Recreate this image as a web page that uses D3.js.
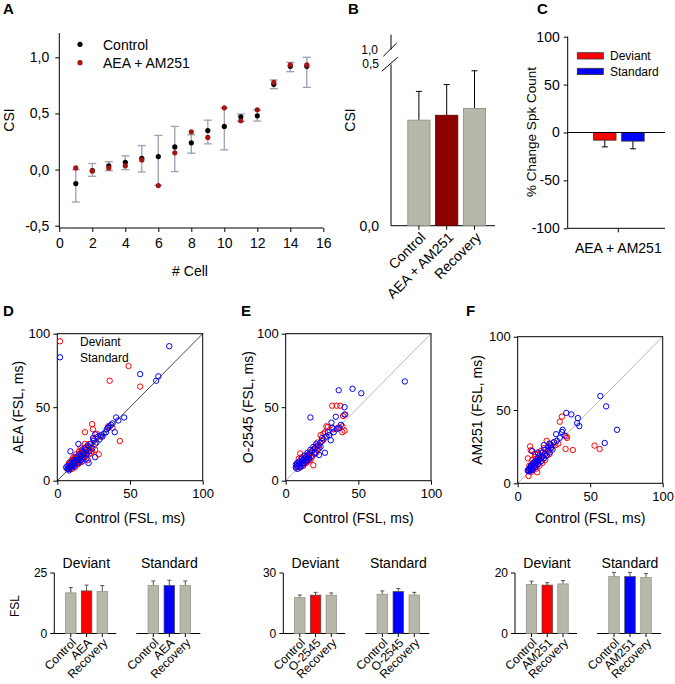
<!DOCTYPE html>
<html>
<head>
<meta charset="utf-8">
<script src="https://cdn.jsdelivr.net/npm/d3@7"></script>
<style>
  body { margin: 0; background: #fff; }
  svg { font-family: Arial, "Liberation Sans", sans-serif; }
</style>
</head>
<body>
<svg id="fig" width="675" height="684"></svg>
<script>
// ---- Panel A: CSI per cell ----
const cellIds = d3.range(1, 16);
const csiControl = [-0.125, -0.01, 0.033, 0.065, 0.101, 0.116, 0.202, 0.238, 0.348, 0.384, 0.47, 0.479, 0.759, 0.92, 0.92];
const csiDrug = [0.015, -0.012, 0.015, 0.033, 0.086, -0.143, 0.149, 0.336, 0.286, 0.55, 0.435, 0.533, 0.777, 0.932, 0.932];
const csiErrLow = [-0.289, -0.06, -0.01, 0.0, -0.021, -0.14, -0.018, 0.146, 0.229, 0.176, 0.43, 0.432, 0.72, 0.872, 0.732];
const csiErrHigh = [0.0, 0.054, 0.07, 0.122, 0.214, 0.304, 0.384, 0.31, 0.44, 0.55, 0.494, 0.53, 0.798, 0.955, 1.0];

// ---- Panel B: mean CSI ----
const csiGroups = ["Control", "AEA + AM251", "Recovery"];
const csiMean = [0.323, 0.338, 0.359];
const csiSem = [0.088, 0.094, 0.115];

// ---- Panel C: % change spike count ----
const stimGroups = ["Deviant", "Standard"];
const spkChange = [-8, -9];
const spkSem = [7, 8];

// ---- Panels D-F: first spike latency, [control, drug] in ms ----
const aeaDeviant = [[49,78],[36,68],[57,64],[43,27],[24,38.5],[24.5,35],[19,33],[28.5,18],[27,32],[26,21],[21,14],[8,12],[25,28],[22,25],[20,23],[18,20],[16,18],[14,16],[12,14],[10,12],[9,10],[8,9],[11,11],[13,12],[15,14],[17,16],[19,18],[21,20],[23,22],[12,9],[14,11],[16,13],[18,15],[20,17],[10,14],[11,16],[13,18],[15,20],[9,13],[7,8],[17,21],[22,18],[24,20],[19,25],[14,13],[12,16],[10,8],[30,30],[35,37],[38,36],[26,25],[16,22],[9,9],[11,10],[13,15],[15,12],[17,19],[19,16],[21,22],[23,19]];
const aeaStandard = [[77,91.5],[57,72.5],[69.5,71],[68,68],[46,43],[40.5,43],[38,39],[37,38],[39.5,33],[35,36],[32,32],[33.5,33],[30,31],[28,30],[26,31.5],[24.5,29],[14.5,25],[9,20],[21.5,12],[26,16],[25,27],[23,25],[22,23],[20,21],[18,19],[16,17],[15,15],[13,14],[12,13],[11,12],[10,11],[9,10],[8,9],[7,8],[8,7],[10,9],[12,10],[14,12],[16,14],[18,16],[20,18],[22,20],[24,22],[11,14],[13,16],[15,18],[17,20],[19,22],[21,24],[9,12],[7,10],[6,9],[27,26],[29,28],[31,30],[34,35],[36,37],[42,41],[20,15],[17,13],[8,8],[10,10],[12,12],[14,14],[16,16],[18,18]];
const o2545Deviant = [[32,51],[35,51],[37.5,51],[41,45],[39.5,44],[28,37],[29,36.5],[39,37],[40.5,34],[39,33],[26,32],[24,31],[27,33],[22,26],[23,24],[20,22],[18,20],[16,18],[14,16],[12,14],[10,12],[9,11],[8,10],[11,13],[13,15],[15,17],[17,19],[19,21],[21,23],[10,18.5],[19,10.5],[12,10],[14,12],[16,14],[18,16],[20,18],[9,15],[11,16],[13,17],[8,12],[7,9],[25,27],[30,31],[33,35],[36,36],[15,13],[17,14],[21,19],[23,22],[9,9],[11,11],[13,13],[15,15]];
const o2545Standard = [[82,67.5],[46,62.5],[36.5,61.5],[52,59.5],[17,43],[40.5,50],[34.5,43.5],[40.5,45],[31.5,39.5],[37,36],[35,35],[33,33],[31,27.5],[27,19],[23,17.5],[30,31],[28,30],[26,28],[24,26],[22,24],[20,22],[18,20],[16,18],[14,16],[13,15],[12,14],[11,13],[10,12],[9,11],[8,10],[7,9],[8,8],[10,9],[12,11],[14,13],[16,15],[18,17],[20,19],[9,13],[11,15],[13,17],[15,19],[17,21],[19,23],[7,11],[8,12],[21,25],[25,29],[29,33],[32,36],[38,38],[15,14],[22,21],[24,23],[10,10],[12,12],[14,14],[16,17]];
const am251Deviant = [[30.5,45.5],[29,42],[53,25.7],[56.5,23.4],[33,23.4],[38,22.7],[33.5,32],[34,31],[8.5,25.2],[9,22.5],[7,17],[7.5,5],[13.5,7.5],[20,29],[22,27],[25,28],[24,25],[21,23],[19,21],[17,19],[15,17],[13,15],[11,13],[10,12],[9,10],[8,9],[12,11],[14,13],[16,15],[18,17],[20,19],[10,16],[12,18],[14,20],[11,14],[16,22],[18,24],[13,10],[15,12],[17,14],[19,16],[8,12],[10,8],[26,26],[28,27],[12,20],[22,20],[9,9],[11,11],[13,13]];
const am251Standard = [[57,59.5],[61,52.5],[33.5,48],[37,47],[41.5,44.5],[41,41],[42.5,39],[68.5,36.5],[60,27.5],[31,36.5],[26.5,33.5],[32.5,32.5],[30.5,35],[29,31],[27,29],[25,28],[23,26],[21,25],[19,23],[17,21],[15,19],[14,17],[13,16],[12,15],[11,14],[10,13],[9,12],[8,10],[7,9],[8,8],[10,9],[12,11],[14,13],[16,15],[18,17],[20,19],[22,21],[24,23],[9,11],[11,12],[13,14],[15,16],[17,18],[19,20],[21,22],[23,24],[10,22],[14,21],[18,26],[22,27],[7,8.5],[9,9],[10,10],[12,12],[14,15],[16,17]];

// ---- Bottom bars: mean FSL (ms) for Control / drug / Recovery ----
const aeaFslDev = [16.8, 17.6, 17.4], aeaFslDevSem = [2.2, 2.4, 2.4];
const aeaFslStd = [19.8, 19.8, 19.8], aeaFslStdSem = [1.9, 2.2, 1.9];
const o2545FslDev = [17.8, 19.0, 19.0], o2545FslDevSem = [1.3, 1.4, 1.1];
const o2545FslStd = [19.5, 20.8, 19.1], o2545FslStdSem = [1.6, 1.5, 1.3];
const am251FslDev = [16.2, 16.0, 16.4], am251FslDevSem = [1.1, 0.8, 1.1];
const am251FslStd = [18.8, 18.8, 18.5], am251FslStdSem = [1.4, 1.4, 1.3];

const GRAY = "#b7b7aa", GRAY_EDGE = "#8e8e84";
const RED = "#ff0000", BLUE = "#0000ff", DARKRED = "#8b0000";
const svg = d3.select("#fig");

const comma = v => d3.format(".1f")(v).replace(".", ",").replace("\u2212", "-");

function letter(t, x, y) {
  svg.append("text").attr("x", x).attr("y", y)
    .attr("font-size", 15).attr("font-weight", "bold").text(t);
}

function styleAxis(g, size) {
  g.attr("font-size", size).attr("font-family", null);
  g.select(".domain").remove();
  g.selectAll("line").attr("stroke", "#000");
  g.selectAll("text").attr("fill", "#000");
}

function vLabel(text, x, y, size) {
  svg.append("text").attr("transform", `translate(${x},${y}) rotate(-90)`)
    .attr("text-anchor", "middle").attr("dy", "0.35em")
    .attr("font-size", size).text(text);
}

// ================= Panel A =================
function drawPanelA() {
  const x = d3.scaleLinear().domain([0, 16]).range([59.3, 323.3]);
  const y = d3.scaleLinear().domain([-0.5, 1.0]).range([225.7, 57.3]);
  const g = svg.append("g");

  g.append("line").attr("x1", x(0)).attr("x2", x(0)).attr("y1", 33).attr("y2", 228).attr("stroke", "#000");
  g.append("line").attr("x1", x(0)).attr("x2", x(16)).attr("y1", 228).attr("y2", 228).attr("stroke", "#000");

  g.append("g").attr("transform", "translate(0,228)")
    .call(d3.axisBottom(x).tickValues(d3.range(0, 17, 2)).tickSize(4).tickPadding(6))
    .call(a => styleAxis(a, 14));
  g.append("g").attr("transform", `translate(${x(0)},0)`)
    .call(d3.axisLeft(y).tickValues([-0.5, 0, 0.5, 1.0]).tickFormat(comma).tickSize(4).tickPadding(6))
    .call(a => styleAxis(a, 14));

  // error bars
  const eb = g.append("g").attr("stroke", "#9d9db8").attr("stroke-width", 1.3);
  cellIds.forEach((c, i) => {
    const cx = x(c);
    eb.append("line").attr("x1", cx).attr("x2", cx).attr("y1", y(csiErrLow[i])).attr("y2", y(csiErrHigh[i]));
    [csiErrLow[i], csiErrHigh[i]].forEach(v =>
      eb.append("line").attr("x1", cx - 4).attr("x2", cx + 4).attr("y1", y(v)).attr("y2", y(v)));
  });

  g.append("g").selectAll("circle").data(cellIds).join("circle")
    .attr("cx", d => x(d)).attr("cy", (d, i) => y(csiControl[i])).attr("r", 2.6).attr("fill", "#000");
  g.append("g").selectAll("circle").data(cellIds).join("circle")
    .attr("cx", d => x(d)).attr("cy", (d, i) => y(csiDrug[i])).attr("r", 2.6).attr("fill", "#a31414");

  // legend
  g.append("circle").attr("cx", 80).attr("cy", 44.3).attr("r", 2.6).attr("fill", "#000");
  g.append("text").attr("x", 103).attr("y", 49.5).attr("font-size", 14).text("Control");
  g.append("circle").attr("cx", 80).attr("cy", 62.7).attr("r", 2.6).attr("fill", "#a31414");
  g.append("text").attr("x", 103).attr("y", 68).attr("font-size", 14).text("AEA + AM251");

  vLabel("CSI", 9, 120, 14);
  g.append("text").attr("x", 190).attr("y", 275.5).attr("text-anchor", "middle").attr("font-size", 14).text("# Cell");
  letter("A", 3, 14);
}

// ================= Panel B =================
function drawPanelB() {
  const ax = 391;
  const y = d3.scaleLinear().domain([0, 0.5]).range([225.7, 62.3]);
  const x = d3.scaleBand().domain(csiGroups).range([405, 488.4]).paddingInner(0.2).paddingOuter(0.1);
  const g = svg.append("g");

  // broken y axis
  g.append("line").attr("x1", ax).attr("x2", ax).attr("y1", 34.7).attr("y2", 49.5).attr("stroke", "#000");
  g.append("line").attr("x1", ax).attr("x2", ax).attr("y1", 64.5).attr("y2", 225.7).attr("stroke", "#000");
  g.append("line").attr("x1", 383.3).attr("y1", 56.3).attr("x2", 396.7).attr("y2", 43).attr("stroke", "#000");
  g.append("line").attr("x1", 381.7).attr("y1", 71.3).attr("x2", 397.7).attr("y2", 57.3).attr("stroke", "#000");
  g.append("line").attr("x1", ax).attr("x2", 495).attr("y1", y(0)).attr("y2", y(0)).attr("stroke", "#000");

  g.append("text").attr("x", 379).attr("y", y(0)).attr("dy", "0.35em").attr("text-anchor", "end").attr("font-size", 14).text(comma(0));
  g.append("text").attr("x", 379).attr("y", 67.5).attr("text-anchor", "end").attr("font-size", 12).text(comma(0.5));
  g.append("text").attr("x", 378).attr("y", 53.5).attr("text-anchor", "end").attr("font-size", 12).text(comma(1.0));

  const fills = [GRAY, DARKRED, GRAY];
  csiGroups.forEach((k, i) => {
    const cx = x(k) + x.bandwidth() / 2;
    const top = y(csiMean[i]), errTop = y(csiMean[i] + csiSem[i]);
    g.append("line").attr("x1", cx).attr("x2", cx).attr("y1", top).attr("y2", errTop).attr("stroke", "#000");
    g.append("line").attr("x1", cx - 3).attr("x2", cx + 3).attr("y1", errTop).attr("y2", errTop).attr("stroke", "#000");
    g.append("rect").attr("x", x(k)).attr("y", top).attr("width", x.bandwidth()).attr("height", y(0) - top)
      .attr("fill", fills[i]).attr("stroke", i === 1 ? "#5a0000" : GRAY_EDGE).attr("stroke-width", 0.8);
    g.append("line").attr("x1", cx).attr("x2", cx).attr("y1", y(0)).attr("y2", y(0) + 4).attr("stroke", "#000");
    g.append("text").attr("transform", `translate(${cx + 4},${y(0) + 9}) rotate(-45)`)
      .attr("text-anchor", "end").attr("dy", "0.35em").attr("font-size", 14).text(k);
  });

  vLabel("CSI", 350, 120, 14);
  letter("B", 348, 14);
}

// ================= Panel C =================
function drawPanelC() {
  const ax = 567.7;
  const y = d3.scaleLinear().domain([-100, 100]).range([228.3, 36.7]);
  const x = d3.scaleBand().domain(stimGroups).range([590.7, 647]).paddingInner(0.2).paddingOuter(0.1);
  const g = svg.append("g");

  g.append("line").attr("x1", ax).attr("x2", ax).attr("y1", y(100)).attr("y2", y(-100)).attr("stroke", "#000");
  g.append("g").attr("transform", `translate(${ax},0)`)
    .call(d3.axisLeft(y).tickValues([-100, -50, 0, 50, 100]).tickFormat(d => String(d).replace("\u2212", "-")).tickSize(4).tickPadding(4))
    .call(a => styleAxis(a, 14));
  g.append("line").attr("x1", ax).attr("x2", 665).attr("y1", y(-100)).attr("y2", y(-100)).attr("stroke", "#000");
  g.append("line").attr("x1", 618.3).attr("x2", 618.3).attr("y1", y(-100)).attr("y2", y(-100) + 4).attr("stroke", "#000");

  const fills = [RED, BLUE];
  stimGroups.forEach((k, i) => {
    const cx = x(k) + x.bandwidth() / 2;
    const bot = y(spkChange[i]), errBot = y(spkChange[i] - spkSem[i]);
    g.append("line").attr("x1", cx).attr("x2", cx).attr("y1", bot).attr("y2", errBot).attr("stroke", "#000");
    g.append("line").attr("x1", cx - 3).attr("x2", cx + 3).attr("y1", errBot).attr("y2", errBot).attr("stroke", "#000");
    g.append("rect").attr("x", x(k)).attr("y", y(0)).attr("width", x.bandwidth()).attr("height", bot - y(0))
      .attr("fill", fills[i]).attr("stroke", "#333").attr("stroke-width", 0.8);
  });
  g.append("line").attr("x1", ax).attr("x2", 665).attr("y1", y(0)).attr("y2", y(0)).attr("stroke", "#000");

  // legend
  stimGroups.forEach((k, i) => {
    const ly = 52.7 + i * 15.6;
    g.append("rect").attr("x", 577.3).attr("y", ly).attr("width", 26).attr("height", 6.3)
      .attr("fill", fills[i]).attr("stroke", "#333").attr("stroke-width", 0.8);
    g.append("text").attr("x", 610).attr("y", ly + 3.2).attr("dy", "0.35em").attr("font-size", 12).text(k);
  });

  g.append("text").attr("x", 618.3).attr("y", 253).attr("text-anchor", "middle").attr("font-size", 14).text("AEA + AM251");
  vLabel("% Change Spk Count", 531.7, 132, 13.5);
  letter("C", 537, 14);
}

// ================= Panels D-F scatter =================
function scatterPanel(opt) {
  const x = d3.scaleLinear().domain([0, 100]).range([opt.left, opt.right]);
  const y = d3.scaleLinear().domain([0, 100]).range([opt.bottom, opt.top]);
  const g = svg.append("g");

  const diag = () => g.append("line").attr("x1", x(0)).attr("y1", y(0)).attr("x2", x(100)).attr("y2", y(100))
    .attr("stroke", opt.diagColor).attr("stroke-width", 0.9);
  if (!opt.diagOnTop) diag();

  g.append("g").selectAll("circle").data(opt.dev).join("circle")
    .attr("cx", d => x(d[0])).attr("cy", d => y(d[1])).attr("r", 2.7)
    .attr("fill", "none").attr("stroke", RED).attr("stroke-width", 1);
  g.append("g").selectAll("circle").data(opt.std).join("circle")
    .attr("cx", d => x(d[0])).attr("cy", d => y(d[1])).attr("r", 2.7)
    .attr("fill", "none").attr("stroke", BLUE).attr("stroke-width", 1);

  if (opt.diagOnTop) diag();

  g.append("rect").attr("x", x(0)).attr("y", y(100)).attr("width", x(100) - x(0)).attr("height", y(0) - y(100))
    .attr("fill", "none").attr("stroke", "#000");
  g.append("g").attr("transform", `translate(0,${y(0)})`)
    .call(d3.axisBottom(x).tickValues([0, 50, 100]).tickSize(4).tickPadding(4))
    .call(a => styleAxis(a, 13));
  g.append("g").attr("transform", `translate(${x(0)},0)`)
    .call(d3.axisLeft(y).tickValues([0, 50, 100]).tickSize(4).tickPadding(3))
    .call(a => styleAxis(a, 13));

  if (opt.legend) {
    [["Deviant", RED], ["Standard", BLUE]].forEach(([k, c], i) => {
      const ly = 341.3 + i * 16;
      g.append("circle").attr("cx", 60).attr("cy", ly).attr("r", 2.7).attr("fill", "none").attr("stroke", c);
      g.append("text").attr("x", 80).attr("y", ly).attr("dy", "0.35em").attr("font-size", 12).text(k);
    });
  }

  g.append("text").attr("x", (opt.left + opt.right) / 2).attr("y", 523).attr("text-anchor", "middle")
    .attr("font-size", 14).text("Control (FSL, ms)");
  vLabel(opt.yTitle, opt.titleX, (opt.top + opt.bottom) / 2, 14);
  letter(opt.letter, opt.letterX, 316);
}

// ================= Bottom FSL bars =================
function fslBars(opt) {
  const x0 = opt.axisX;
  const y = d3.scaleLinear().domain([0, opt.max]).range([633.5, 573]);
  const labels = ["Control", opt.drug, "Recovery"];
  const g = svg.append("g");

  g.append("line").attr("x1", x0).attr("x2", x0).attr("y1", y(0)).attr("y2", y(opt.max)).attr("stroke", "#000");
  [0, opt.max].forEach(v => {
    g.append("line").attr("x1", x0 - 4).attr("x2", x0).attr("y1", y(v)).attr("y2", y(v)).attr("stroke", "#000");
    g.append("text").attr("x", x0 - 7).attr("y", y(v)).attr("dy", "0.35em").attr("text-anchor", "end")
      .attr("font-size", 12).text(v);
  });

  const groups = [
    { title: "Deviant", mean: opt.dev, sem: opt.devSem, accent: RED, start: 0, end: 62, p0: 16.5, p1: 48 },
    { title: "Standard", mean: opt.std, sem: opt.stdSem, accent: BLUE, start: 82, end: 146, p0: 99, p1: 131 }
  ];
  groups.forEach(gr => {
    const px = d3.scalePoint().domain(labels).range([x0 + gr.p0, x0 + gr.p1]);
    const bw = 10.5;
    g.append("line").attr("x1", x0 + gr.start).attr("x2", x0 + gr.end).attr("y1", y(0)).attr("y2", y(0)).attr("stroke", "#000");
    labels.forEach((k, i) => {
      const cx = px(k);
      const top = y(gr.mean[i]), errTop = y(gr.mean[i] + gr.sem[i]);
      g.append("line").attr("x1", cx).attr("x2", cx).attr("y1", top).attr("y2", errTop).attr("stroke", "#555");
      g.append("line").attr("x1", cx - 2).attr("x2", cx + 2).attr("y1", errTop).attr("y2", errTop).attr("stroke", "#555");
      g.append("rect").attr("x", cx - bw / 2).attr("y", top).attr("width", bw).attr("height", y(0) - top)
        .attr("fill", i === 1 ? gr.accent : GRAY).attr("stroke", i === 1 ? "#444" : GRAY_EDGE).attr("stroke-width", 0.7);
      g.append("line").attr("x1", cx).attr("x2", cx).attr("y1", y(0)).attr("y2", y(0) + 3.5).attr("stroke", "#000");
      g.append("text").attr("transform", `translate(${cx + 3},${y(0) + 7}) rotate(-45)`)
        .attr("text-anchor", "end").attr("dy", "0.35em").attr("font-size", 12).text(k);
    });
    g.append("text").attr("x", x0 + (gr.start + gr.end) / 2 + 1).attr("y", 568).attr("text-anchor", "middle")
      .attr("font-size", 14).text(gr.title);
  });

  if (opt.yTitle) vLabel("FSL", 15, 606, 12);
}

drawPanelA();
drawPanelB();
drawPanelC();

scatterPanel({ left: 57.3, right: 202.7, top: 333.7, bottom: 480.7, dev: aeaDeviant, std: aeaStandard,
  diagColor: "#333", diagOnTop: true, legend: true, yTitle: "AEA (FSL, ms)", titleX: 18.3, letter: "D", letterX: 3 });
scatterPanel({ left: 285.7, right: 431, top: 333.7, bottom: 480.7, dev: o2545Deviant, std: o2545Standard,
  diagColor: "#b0b0b0", diagOnTop: false, legend: false, yTitle: "O-2545 (FSL, ms)", titleX: 248.3, letter: "E", letterX: 241 });
scatterPanel({ left: 517.7, right: 662.7, top: 336.7, bottom: 483.3, dev: am251Deviant, std: am251Standard,
  diagColor: "#b0b0b0", diagOnTop: false, legend: false, yTitle: "AM251 (FSL, ms)", titleX: 476.7, letter: "F", letterX: 466 });

fslBars({ axisX: 54.3, max: 25, drug: "AEA", dev: aeaFslDev, devSem: aeaFslDevSem, std: aeaFslStd, stdSem: aeaFslStdSem, yTitle: true });
fslBars({ axisX: 283.3, max: 30, drug: "O-2545", dev: o2545FslDev, devSem: o2545FslDevSem, std: o2545FslStd, stdSem: o2545FslStdSem });
fslBars({ axisX: 515, max: 20, drug: "AM251", dev: am251FslDev, devSem: am251FslDevSem, std: am251FslStd, stdSem: am251FslStdSem });
</script>
</body>
</html>
